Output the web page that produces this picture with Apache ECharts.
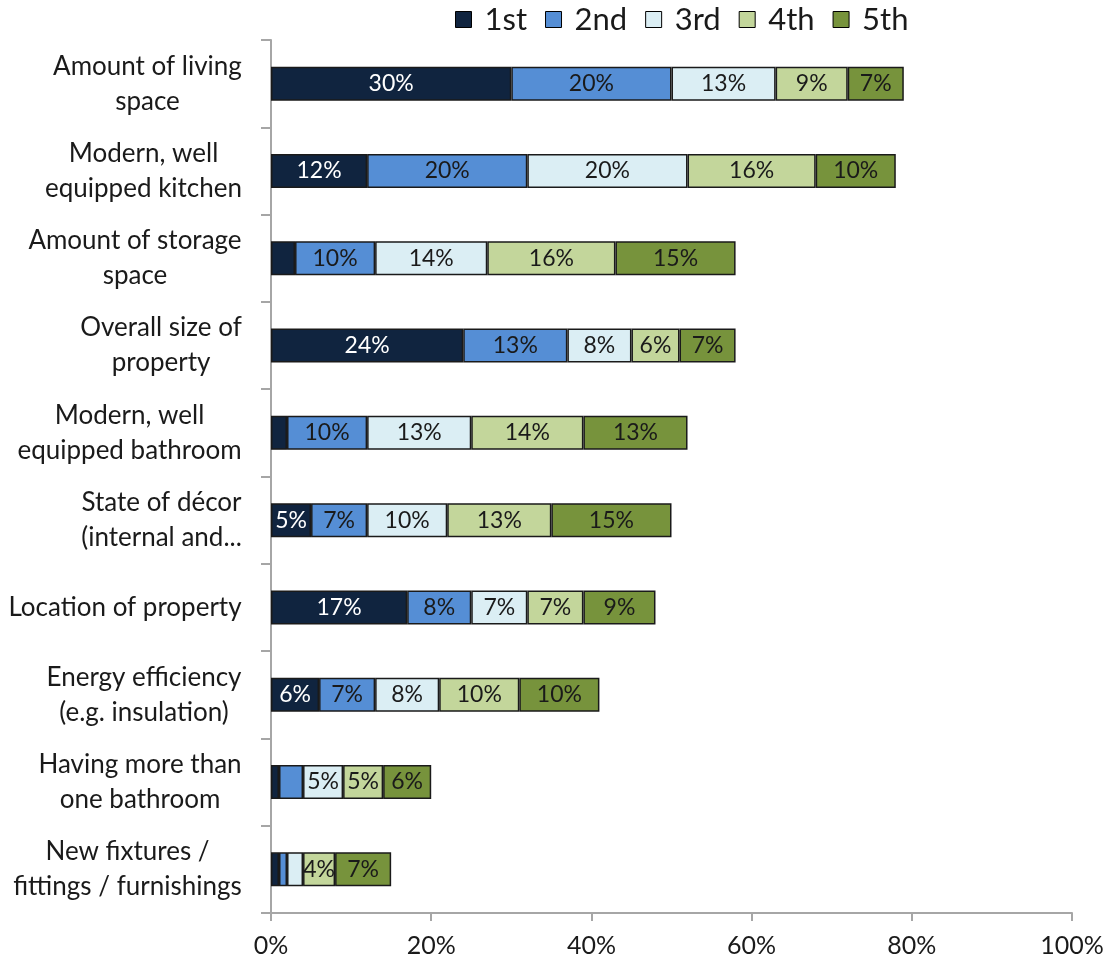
<!DOCTYPE html>
<html>
<head>
<meta charset="utf-8">
<script src="https://cdn.jsdelivr.net/npm/echarts@6/dist/echarts.min.js"></script>
<style>
  html, body { margin: 0; padding: 0; background: #fff; }
  #chart { width: 1108px; height: 966px; }
</style>
</head>
<body>
<div id="chart"></div>
<script>
// Ranked importance of home features: share choosing each feature 1st..5th
const categories = [
  'Amount of living\nspace',
  'Modern, well\nequipped kitchen',
  'Amount of storage\nspace',
  'Overall size of\nproperty',
  'Modern, well\nequipped bathroom',
  'State of décor\n(internal and...',
  'Location of property',
  'Energy efficiency\n(e.g. insulation)',
  'Having more than\none bathroom',
  'New fixtures /\nfittings / furnishings'
];
const seriesNames = ['1st', '2nd', '3rd', '4th', '5th'];
const first  = [30, 12, 3, 24, 2, 5, 17, 6, 1, 1];
const second = [20, 20, 10, 13, 10, 7, 8, 7, 3, 1];
const third  = [13, 20, 14, 8, 13, 10, 7, 8, 5, 2];
const fourth = [9, 16, 16, 6, 14, 13, 7, 10, 5, 4];
const fifth  = [7, 10, 15, 7, 13, 15, 9, 10, 6, 7];
const xTicks = [0, 20, 40, 60, 80, 100];

const colors = ['#10243f', '#558ed5', '#dbeef4', '#c3d69b', '#77933c'];
const labelColors = ['#ffffff', '#1a1a1a', '#1a1a1a', '#1a1a1a', '#1a1a1a'];
const values = [first, second, third, fourth, fifth];

const FONT = 'Lato';
const catFontSize = 26;

// Each category label is a small block whose lines are centred on each other
// and whose right edge sits against the axis.
const ctx = document.createElement('canvas').getContext('2d');
ctx.font = catFontSize + 'px "' + FONT + '"';
const rich = {};
categories.forEach((c, i) => {
  const w = Math.max(...c.split('\n').map(s => ctx.measureText(s).width));
  rich['c' + i] = { width: Math.ceil(w) + 2, align: 'center', fontSize: catFontSize, fontFamily: FONT, color: '#1a1a1a', lineHeight: 35 };
});

const chart = echarts.init(document.getElementById('chart'), null, { renderer: 'canvas' });

chart.setOption({
  animation: false,
  textStyle: { fontFamily: FONT },
  legend: {
    top: 4,
    left: 455,
    padding: 0,
    itemWidth: 16,
    itemHeight: 16,
    itemGap: 18,
    textStyle: { fontSize: 31, color: '#1a1a1a', fontFamily: FONT, padding: [0, 0, 0, 8] },
    data: seriesNames.map(n => ({ name: n, icon: 'rect', itemStyle: { borderColor: '#000', borderWidth: 1 } }))
  },
  grid: { left: 271, right: 36, top: 40, bottom: 53 },
  xAxis: {
    type: 'value',
    min: 0,
    max: 100,
    interval: 20,
    axisLine: { show: true, lineStyle: { color: '#a6a6a6', width: 2 } },
    axisTick: { show: true, length: 8, lineStyle: { color: '#a6a6a6', width: 2 } },
    splitLine: { show: false },
    axisLabel: {
      margin: 20,
      fontSize: 25,
      color: '#1a1a1a',
      fontFamily: FONT,
      customValues: xTicks,
      formatter: v => v + '%'
    }
  },
  yAxis: {
    type: 'category',
    inverse: true,
    data: categories,
    axisLine: { show: true, lineStyle: { color: '#a6a6a6', width: 2 } },
    axisTick: { show: true, length: 10, lineStyle: { color: '#a6a6a6', width: 2 } },
    axisLabel: {
      margin: 28,
      align: 'right',
      rich: rich,
      formatter: (val, idx) => val.split('\n').map(s => '{c' + idx + '|' + s + '}').join('\n')
    }
  },
  series: seriesNames.map((name, si) => ({
    name: name,
    type: 'bar',
    stack: 'rank',
    barWidth: 34,
    data: values[si],
    itemStyle: { color: colors[si], borderColor: '#1a1a1a', borderWidth: 1.5 },
    label: {
      show: true,
      position: 'inside',
      color: labelColors[si],
      fontSize: 23,
      fontFamily: FONT,
      formatter: p => (p.value >= 4 ? p.value + '%' : '')
    }
  }))
});
</script>
</body>
</html>
